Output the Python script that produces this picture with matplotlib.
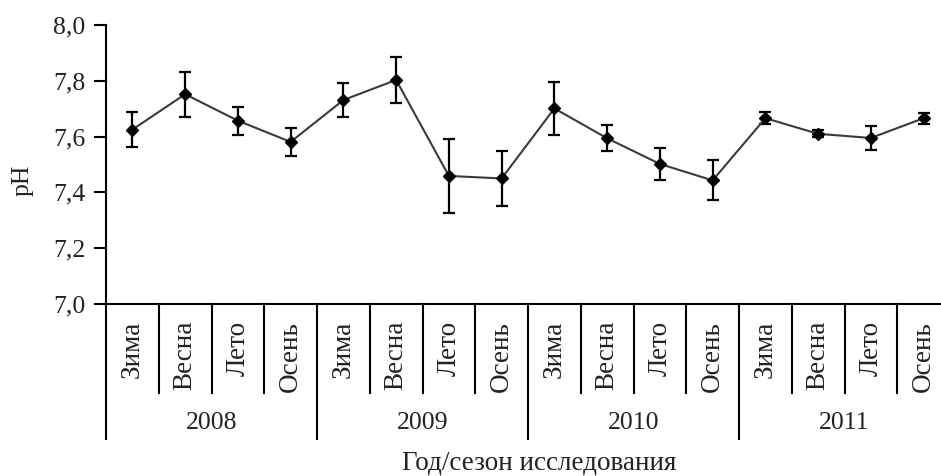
import matplotlib
matplotlib.use("Agg")
import matplotlib.pyplot as plt
import matplotlib.transforms as mtransforms

years = ["2008", "2009", "2010", "2011"]
seasons = ["Зима", "Весна", "Лето", "Осень"]
ph_mean = [7.625, 7.752, 7.657, 7.581,
           7.731, 7.803, 7.459, 7.450,
           7.701, 7.594, 7.502, 7.443,
           7.666, 7.610, 7.595, 7.666]
ph_err = [0.064, 0.080, 0.050, 0.050,
          0.061, 0.082, 0.133, 0.097,
          0.095, 0.047, 0.058, 0.072,
          0.022, 0.012, 0.043, 0.020]
yticks = [7.0, 7.2, 7.4, 7.6, 7.8, 8.0]

W, H = 941, 476
fig = plt.figure(figsize=(W / 100, H / 100), dpi=100)
plt.rcParams['font.family'] = ['Liberation Serif', 'DejaVu Serif']

ax_left, ax_right, ax_top, ax_bottom = 106, 950, 25, 304
ax = fig.add_axes([ax_left / W, (H - ax_bottom) / H,
                   (ax_right - ax_left) / W, (ax_bottom - ax_top) / H])
ax_h = ax_bottom - ax_top

n = len(ph_mean)
xs = [i + 0.5 for i in range(n)]
ax.errorbar(xs, ph_mean, yerr=ph_err, fmt='none', ecolor='black',
            elinewidth=1.6, capsize=4.6, capthick=1.6, zorder=2)
ax.plot(xs, ph_mean, color='#3a3a3a', lw=1.5, zorder=3)
ax.plot(xs, ph_mean, linestyle='none', marker='D', markersize=6.5,
        color='black', zorder=4)

ax.set_xlim(0, n)
ax.set_ylim(7.0, 8.0)
ax.set_yticks(yticks)
ax.set_yticklabels([f"{v:.1f}".replace('.', ',') for v in yticks],
                   fontsize=18.5, color='#222222')
ax.tick_params(axis='y', direction='out', length=9, width=1.5, pad=6)
ax.set_xticks([])
for s in ['top', 'right']:
    ax.spines[s].set_visible(False)
for s in ['left', 'bottom']:
    ax.spines[s].set_linewidth(1.5)
    ax.spines[s].set_color('black')

trans = mtransforms.blended_transform_factory(ax.transData, ax.transAxes)

def yfrac(py):
    return (ax_bottom - py) / ax_h

season_line_end = 393
year_line_end = 439
for i in range(n + 1):
    end = year_line_end if i % 4 == 0 else season_line_end
    ax.plot([i, i], [0, yfrac(end)], transform=trans, color='black',
            lw=1.5, clip_on=False)

for i in range(n):
    ax.text(i + 0.5, yfrac(321), seasons[i % 4], transform=trans,
            rotation=90, ha='center', va='top', fontsize=19.5,
            color='#222222')

for j, yr in enumerate(years):
    ax.text(j * 4 + 2, yfrac(423), yr, transform=trans, ha='center',
            va='center', fontsize=18.5, color='#222222')

fig.text(539 / W, (H - 463) / H, "Год/сезон исследования", ha='center',
         va='center', fontsize=19.5, color='#222222')
fig.text(23 / W, (H - 180) / H, "pH", rotation=90, ha='center',
         va='center', fontsize=18.5, color='#222222')

fig.savefig("out.png", dpi=100)
